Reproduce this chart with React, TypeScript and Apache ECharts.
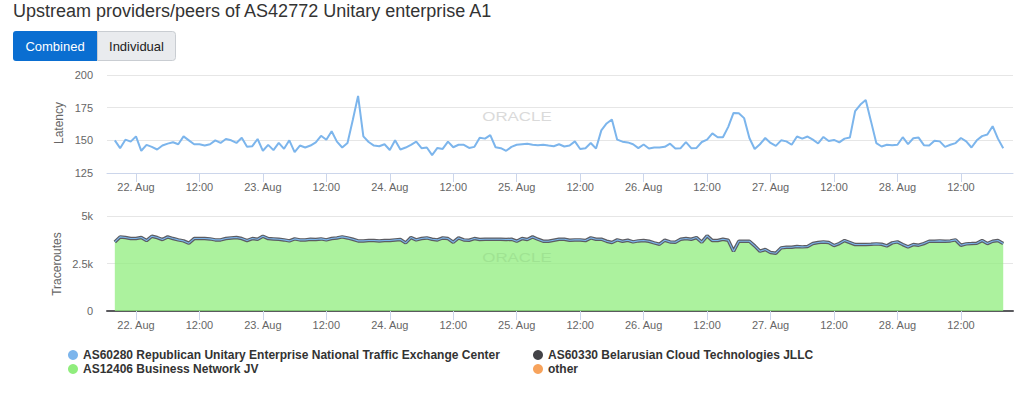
import React, { useEffect, useRef } from "react";
import * as echarts from "echarts";

const FONT = '"Liberation Sans", Arial, Helvetica, sans-serif';

// hours counted from 21 Aug 00:00; first hourly sample at 21 Aug 20:00
const startHour = 20;
const axisMinHour = 18.52;
const axisMaxHour = 189.85;

const tickHours = [24, 36, 48, 60, 72, 84, 96, 108, 120, 132, 144, 156, 168, 180];
const tickLabels = [
  "22. Aug", "12:00", "23. Aug", "12:00", "24. Aug", "12:00", "25. Aug",
  "12:00", "26. Aug", "12:00", "27. Aug", "12:00", "28. Aug", "12:00",
];

const latencyTicks = { min: 125, max: 200, interval: 25 };
const tracerouteTicks = { min: 0, max: 5000, interval: 2500 };

const nameAS60280 = "AS60280 Republican Unitary Enterprise National Traffic Exchange Center";
const nameAS60330 = "AS60330 Belarusian Cloud Technologies JLLC";
const nameAS12406 = "AS12406 Business Network JV";
const nameOther = "other";

const latencyAS60280 = [
  150, 144, 150.5, 149, 153, 142, 146.5, 145, 143, 146, 147.5, 148.5, 147, 153, 150, 147, 147, 146, 147, 150, 148, 151,
  150, 148, 152, 145, 145.5, 151, 142, 146.5, 142.5, 148, 143.5, 150, 141, 146, 144.5, 146, 148.5, 153.5, 150.5, 157, 149,
  144.5, 148, 165.5, 184, 153, 148.7, 146, 145.5, 147, 142.6, 150, 143, 144.5, 146.6, 149, 144, 144.5, 138.7, 144.2, 143.4,
  149, 144.7, 146.6, 146.6, 144.2, 145, 152, 151.3, 154, 144.7, 144, 142, 145, 146.6, 147, 147.4, 146.6, 146.3, 146.6, 146,
  145.5, 147,
  145.3, 146, 149.2, 143.4, 144, 148, 143.7, 157.6, 162.9, 166, 150.5, 149, 148.4, 147, 144, 146.8, 143.7, 144.5, 144.5,
  145, 147.4, 143.7, 144, 148.7, 144, 144.2, 148.7, 150.5, 155.3, 152.4, 152.4, 160.3, 171, 170.8, 167, 151.8, 143.4, 147,
  151.8, 148, 145.8, 150, 149.2,
  146.6, 152.9, 151.3, 152.9, 150.5, 147.6, 152.6, 149.5, 150.3, 148.4, 151.3, 152.1, 172.4, 177.4, 180.8, 164.5, 147.9,
  145.3, 146.6, 146.3, 146.6, 152.4, 147.1, 151.6, 152.1, 146.3, 146, 149.7, 149.2, 145, 146.6, 147.9, 151.8, 149.2, 144.5,
  150, 153.2, 154.5, 160.8, 151.3, 144,
];

const traceroutesUpstream = [
  3637, 3900, 3865, 3812, 3812, 3865, 3707, 3935, 3865, 3760, 3900, 3812, 3742, 3690, 3568, 3812, 3812, 3812, 3795, 3742,
  3742, 3812, 3847, 3865, 3812, 3707, 3812, 3777, 3935, 3812, 3795, 3777, 3742, 3690, 3795, 3742, 3742, 3777, 3760, 3795,
  3742, 3812, 3847, 3900, 3847, 3777, 3690, 3690, 3707, 3707, 3690, 3707, 3707, 3742, 3760, 3585, 3865, 3742, 3812, 3847,
  3777, 3742, 3847, 3812, 3620, 3847, 3742, 3725, 3812, 3760, 3777, 3777, 3777, 3777, 3760, 3777, 3672, 3812, 3760, 3900,
  3777, 3672, 3672, 3725,
  3777, 3777, 3725, 3742, 3742, 3707, 3847, 3777, 3777, 3672, 3603, 3742, 3672, 3725, 3637, 3690, 3707, 3672, 3585, 3515,
  3725, 3637, 3620, 3777, 3812, 3777, 3865, 3620, 3952, 3707, 3707, 3777, 3725, 3148, 3672, 3672, 3672, 3428, 3148, 3235,
  3078, 3043, 3323, 3358, 3358, 3393, 3375, 3393, 3550, 3603, 3637, 3603, 3445, 3550, 3707, 3603, 3498, 3498, 3498, 3515,
  3533, 3515, 3428, 3585, 3637, 3498, 3375, 3498, 3463, 3550, 3672, 3672, 3690, 3672, 3690, 3742, 3463, 3533, 3550, 3568,
  3707, 3550, 3672, 3707, 3550,
];

const traceroutesOther = new Array(traceroutesUpstream.length).fill(0);

const C_BLUE = "#7cb5ec";
const C_DARK = "#434348";
const C_GREEN = "#90ed7d";
const C_ORANGE = "#f7a35c";

function pairs(values: number[]) {
  return values.map((v, i) => [startHour + i, v]);
}

function xAxisFor(gridIndex: number, lineColor: string, lineWidth: number) {
  return {
    type: "value",
    gridIndex,
    min: axisMinHour,
    max: axisMaxHour,
    axisLine: { show: true, lineStyle: { color: lineColor, width: lineWidth } },
    axisTick: { show: true, customValues: tickHours, length: 9, lineStyle: { color: "#ccd6eb" } },
    axisLabel: {
      customValues: tickHours,
      formatter: (v: number) => {
        const k = tickHours.indexOf(Math.round(v));
        return k >= 0 ? tickLabels[k] : "";
      },
      color: "#666",
      fontSize: 11,
      fontFamily: FONT,
      margin: 8,
    },
    splitLine: { show: false },
  };
}

export default function App() {
  const ref = useRef<HTMLDivElement>(null);
  useEffect(() => {
    if (!ref.current) return;
    const chart = echarts.init(ref.current, undefined, { renderer: "svg" });
    const legendCommon = {
      icon: "circle",
      itemWidth: 10,
      itemHeight: 10,
      padding: 0,
      textStyle: { fontSize: 12, fontWeight: "bold", color: "#333", fontFamily: FONT },
    };
    chart.setOption({
      animation: false,
      textStyle: { fontFamily: FONT },
      grid: [
        { left: 107, right: 11, top: 75, height: 98 },
        { left: 107, right: 11, top: 216, height: 95 },
      ],
      xAxis: [xAxisFor(0, "#ccd6eb", 1), xAxisFor(1, "#5a5a5e", 2)],
      yAxis: [
        {
          type: "value",
          gridIndex: 0,
          ...latencyTicks,
          axisLine: { show: false },
          axisTick: { show: false },
          axisLabel: { color: "#666", fontSize: 11, fontFamily: FONT, margin: 14 },
          splitLine: { lineStyle: { color: "#e6e6e6" } },
        },
        {
          type: "value",
          gridIndex: 1,
          ...tracerouteTicks,
          axisLine: { show: false },
          axisTick: { show: false },
          axisLabel: {
            color: "#666",
            fontSize: 11,
            fontFamily: FONT,
            margin: 14,
            formatter: (v: number) => (v === 0 ? "0" : v / 1000 + "k"),
          },
          splitLine: { lineStyle: { color: "#e6e6e6" } },
        },
      ],
      legend: [
        { ...legendCommon, left: 68, top: 349, data: [{ name: nameAS60280, itemStyle: { color: C_BLUE } }] },
        { ...legendCommon, left: 533, top: 349, data: [{ name: nameAS60330, itemStyle: { color: C_DARK } }] },
        { ...legendCommon, left: 68, top: 363, data: [{ name: nameAS12406, itemStyle: { color: C_GREEN } }] },
        { ...legendCommon, left: 533, top: 363, data: [{ name: nameOther, itemStyle: { color: C_ORANGE } }] },
      ],
      graphic: [
        {
          type: "text",
          x: 13,
          y: 2,
          style: { text: "Upstream providers/peers of AS42772 Unitary enterprise A1", fontSize: 18, fontFamily: FONT, fill: "#333", verticalAlign: "top" },
        },
        { type: "rect", shape: { x: 13, y: 31, width: 84, height: 30, r: [3, 0, 0, 3] }, style: { fill: "#0a6ed1" } },
        { type: "rect", shape: { x: 97.5, y: 31.5, width: 78, height: 29, r: [0, 3, 3, 0] }, style: { fill: "#e9ebee", stroke: "#c9cdd2", lineWidth: 1 } },
        { type: "text", x: 55, y: 46, style: { text: "Combined", fontSize: 13, fontFamily: FONT, fill: "#fff", align: "center", verticalAlign: "middle" } },
        { type: "text", x: 136.5, y: 46, style: { text: "Individual", fontSize: 13, fontFamily: FONT, fill: "#222", align: "center", verticalAlign: "middle" } },
        { type: "text", x: 517, y: 116, scaleX: 1.3, style: { text: "ORACLE", fontSize: 13, fontFamily: FONT, fill: "#dadada", align: "center", verticalAlign: "middle" }, z: 0 },
        { type: "text", x: 517, y: 257, scaleX: 1.3, style: { text: "ORACLE", fontSize: 13, fontFamily: FONT, fill: "#9fe392", align: "center", verticalAlign: "middle" }, z: 100 },
        { type: "text", x: 59, y: 123, rotation: Math.PI / 2, style: { text: "Latency", fontSize: 12, fontFamily: FONT, fill: "#666", align: "center", verticalAlign: "middle" } },
        { type: "text", x: 57, y: 264, rotation: Math.PI / 2, style: { text: "Traceroutes", fontSize: 12, fontFamily: FONT, fill: "#666", align: "center", verticalAlign: "middle" } },
      ],
      series: [
        {
          name: nameAS60280,
          type: "line",
          xAxisIndex: 0,
          yAxisIndex: 0,
          data: pairs(latencyAS60280),
          showSymbol: false,
          itemStyle: { color: C_BLUE },
          lineStyle: { color: C_BLUE, width: 2 },
        },
        {
          name: nameOther,
          type: "line",
          xAxisIndex: 1,
          yAxisIndex: 1,
          data: pairs(traceroutesOther),
          showSymbol: false,
          itemStyle: { color: C_ORANGE },
          lineStyle: { width: 0, opacity: 0 },
        },
        {
          name: nameAS12406,
          type: "line",
          xAxisIndex: 1,
          yAxisIndex: 1,
          data: pairs(traceroutesUpstream),
          showSymbol: false,
          itemStyle: { color: C_GREEN },
          lineStyle: { color: C_GREEN, width: 2 },
          areaStyle: { color: C_GREEN, opacity: 0.75 },
        },
        {
          name: nameAS60330,
          type: "line",
          xAxisIndex: 1,
          yAxisIndex: 1,
          data: pairs(traceroutesUpstream),
          showSymbol: false,
          itemStyle: { color: C_DARK },
          lineStyle: { color: "#5c5c62", width: 3.5 },
        },
        {
          name: nameAS60280,
          type: "line",
          xAxisIndex: 1,
          yAxisIndex: 1,
          data: pairs(traceroutesUpstream),
          showSymbol: false,
          itemStyle: { color: C_BLUE },
          lineStyle: { color: C_BLUE, width: 1.1 },
        },
      ],
    });
    return () => chart.dispose();
  }, []);
  return (
    <div
      ref={ref}
      style={{ position: "absolute", left: 0, top: 0, width: 1024, height: 394, background: "#fff" }}
    />
  );
}
